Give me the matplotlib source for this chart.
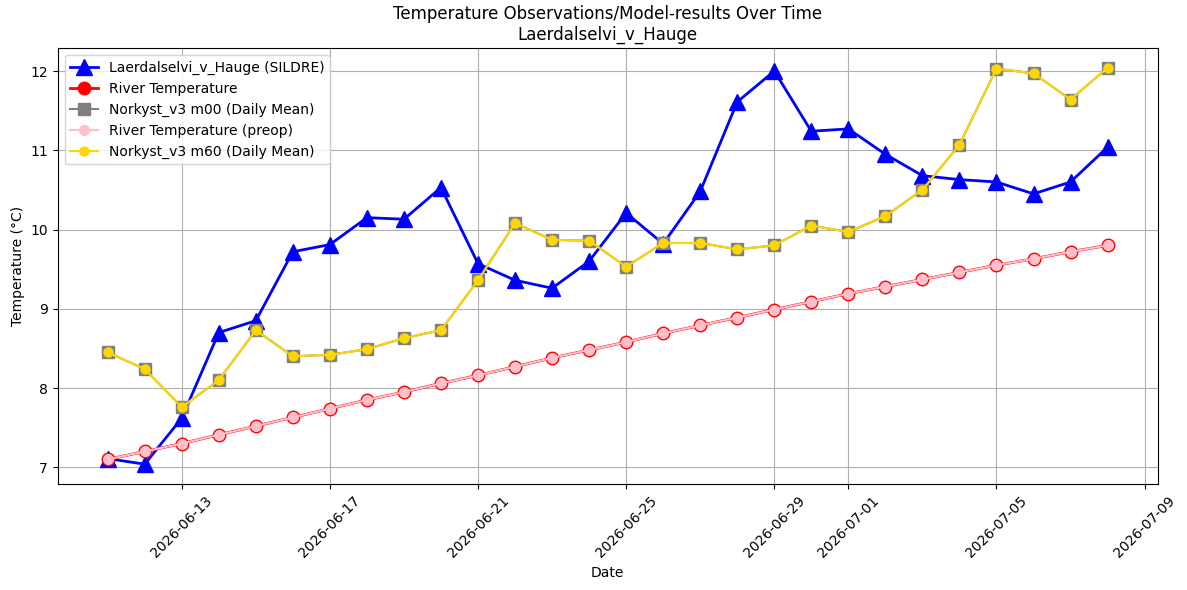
import matplotlib
matplotlib.use("Agg")
import matplotlib.pyplot as plt
import matplotlib.dates as mdates
import pandas as pd

dates = pd.date_range("2026-06-11", "2026-07-08", freq="D")

sildre = [7.11, 7.04, 7.62, 8.70, 8.85, 9.72, 9.81, 10.15, 10.13, 10.53,
          9.57, 9.36, 9.26, 9.60, 10.21, 9.82, 10.48, 11.61, 12.00, 11.24,
          11.27, 10.95, 10.68, 10.63, 10.60, 10.45, 10.60, 11.04]

river_temp = [7.10, 7.20, 7.30, 7.41, 7.52, 7.63, 7.74, 7.85, 7.95, 8.06,
              8.16, 8.27, 8.38, 8.48, 8.58, 8.69, 8.79, 8.89, 8.99, 9.09,
              9.19, 9.28, 9.37, 9.46, 9.55, 9.63, 9.72, 9.80]

river_temp_preop = list(river_temp)

norkyst_m00 = [8.45, 8.24, 7.76, 8.10, 8.73, 8.40, 8.42, 8.49, 8.63, 8.73,
               9.36, 10.08, 9.87, 9.86, 9.53, 9.83, 9.83, 9.75, 9.80, 10.05,
               9.97, 10.17, 10.50, 11.07, 12.03, 11.97, 11.64, 12.04]

norkyst_m60 = [8.45, 8.24, 7.76, 8.10, 8.73, 8.40, 8.42, 8.49, 8.63, 8.73,
               9.36, 10.08, 9.87, 9.86, 9.53, 9.83, 9.83, 9.75, 9.80, 10.05,
               9.97, 10.17, 10.50, 11.07, 12.03, 11.97, 11.64, 12.04]

fig, ax = plt.subplots(figsize=(11.87, 5.9), dpi=100)

ax.plot(dates, sildre, color="blue", marker="^", markersize=12, linewidth=2,
        label="Laerdalselvi_v_Hauge (SILDRE)")
ax.plot(dates, river_temp, color="red", marker="o", markersize=9, linewidth=2,
        label="River Temperature")
ax.plot(dates, norkyst_m00, color="gray", marker="s", markersize=9, linewidth=1.5,
        label="Norkyst_v3 m00 (Daily Mean)")
ax.plot(dates, river_temp_preop, color="pink", marker="o", markersize=7, linewidth=1.5,
        label="River Temperature (preop)")
ax.plot(dates, norkyst_m60, color="gold", marker="o", markersize=6.5, linewidth=1.5,
        label="Norkyst_v3 m60 (Daily Mean)")

ax.set_title("Temperature Observations/Model-results Over Time\nLaerdalselvi_v_Hauge")
ax.set_xlabel("Date")
ax.set_ylabel("Temperature (°C)")
ax.grid(True)
ax.legend(loc="upper left")
ax.xaxis.set_major_formatter(mdates.DateFormatter("%Y-%m-%d"))
plt.setp(ax.get_xticklabels(), rotation=45)

fig.subplots_adjust(left=0.0486, right=0.9752, top=0.9186, bottom=0.1797)
fig.savefig("out.png")
